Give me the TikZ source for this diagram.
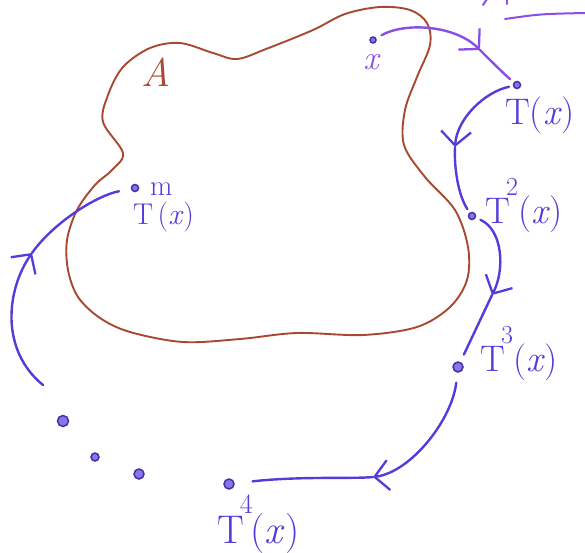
\documentclass[tikz,border=0pt]{standalone}
\usepackage{fontspec}
\usetikzlibrary{arrows.meta}
\definecolor{pcol}{RGB}{88,58,218}
\definecolor{pcoll}{RGB}{138,78,230}
\definecolor{bcol}{RGB}{168,72,48}
\newcommand\Tpow[4]{T\kern-0.1em\raisebox{#2}{\fontsize{#4}{#4}\selectfont #1}\kern#3(\textit{x})}
\tikzset{
  conn/.style={draw=pcol, line width=2.4pt, line cap=round},
  hd/.style={-{Straight Barb[length=14pt,width=30pt,line width=2.3pt]}},
  pdot/.style={circle, draw=pcol!80!black, fill=pcol!70, line width=1.5pt, inner sep=0pt, minimum size=#1},
  plab/.style={text=pcol, inner sep=0pt, font=\fontsize{#1}{#1}\selectfont},
}
\begin{document}
\begin{tikzpicture}[x=1pt,y=-1pt]
\useasboundingbox (0,0) rectangle (585,552);
% region A
\draw[bcol, line width=1.9pt] plot[smooth cycle, tension=0.55] coordinates {(103,122) (123,153) (112,170) (95,185) (77,210) (67,240) (68,270) (78,297) (100,318) (130,332) (183,342) (240,339) (297,333) (363,335) (417,327) (450,307) (467,280) (468,247) (455,210) (425,177) (404,145) (405,110) (417,77) (430,45) (427,23) (410,10) (380,7) (345,14) (313,30) (266,49) (237,59) (213,53) (180,43) (150,48) (123,67) (108,95)};
% points
\node[pdot=6pt] (x) at (373,40) {};
\node[pdot=7pt] (tx) at (517,85) {};
\node[pdot=7pt] (t2) at (472,216) {};
\node[pdot=10pt] (t3) at (458,367) {};
\node[pdot=10pt] (t4) at (229,484) {};
\node[pdot=11pt] (e1) at (63,421) {};
\node[pdot=8pt] (e2) at (95,457) {};
\node[pdot=10pt] (e3) at (139,474) {};
\node[pdot=7pt] (tm) at (135,188) {};
\coordinate (a1) at (480,50);
\coordinate (a2) at (455,147);
\coordinate (a3) at (492,295);
\coordinate (a4) at (373,477);
\coordinate (a5) at (32,253);
\coordinate (s5) at (43,385);
% labels
\node[plab=34, text=pcoll] (lx) at (372,62) {\textit{x}};
\node[text=bcol, inner sep=0pt, font=\fontsize{40}{40}\selectfont] (lA) at (156,72) {\textit{A}};
\node[plab=37, anchor=base west] (ltx) at (505,124) {T(\textit{x})};
\node[plab=37, anchor=base west] (lt2) at (485,223) {\Tpow{2}{0.75em}{0em}{26}};
\node[plab=37, anchor=base west] (lt3) at (480,371) {\Tpow{3}{0.75em}{0em}{26}};
\node[plab=40, anchor=base west] (lt4) at (217,543) {\Tpow{4}{0.75em}{-0.05em}{28}};
\node[plab=30, anchor=base west] (ltm) at (133,224) {\Tpow{m}{0.95em}{-0.5em}{29}};
% orbit
\draw[conn, draw=pcoll, hd, shorten <=6pt] (x) .. controls (405,22) and (455,25) .. (a1);
\draw[conn, draw=pcoll, shorten >=5pt] (a1) .. controls (491,61) and (503,73) .. (tx);
\draw[conn, hd, shorten <=4pt] (tx) .. controls (485,92) and (457,118) .. (a2);
\draw[conn, shorten >=4pt] (a2) .. controls (454,167) and (458,195) .. (t2);
\draw[conn, hd, shorten <=5pt] (t2) .. controls (503,230) and (505,270) .. (a3);
\draw[conn, shorten >=8pt] (a3) -- (t3);
\draw[conn, hd, shorten <=10pt] (t3) .. controls (452,420) and (410.6,472.4) .. (a4);
\draw[conn, shorten >=18pt] (a4) .. controls (355,479) and (300,476) .. (t4);
\draw[conn, hd] (s5) .. controls (0,350) and (6.3,290) .. (a5);
\draw[conn, shorten >=12pt] (a5) .. controls (52,224.3) and (95,196) .. (tm);
% cut-off strokes at the top right
\draw[conn, draw=pcoll, line width=2pt] (505,19) .. controls (540,14) .. (585,13);
\draw[conn, draw=pcoll, line width=2pt] (483,5) -- (487,-1);
\draw[conn, draw=pcoll, line width=2pt] (507,4) -- (507,-1);
\end{tikzpicture}
\end{document}
